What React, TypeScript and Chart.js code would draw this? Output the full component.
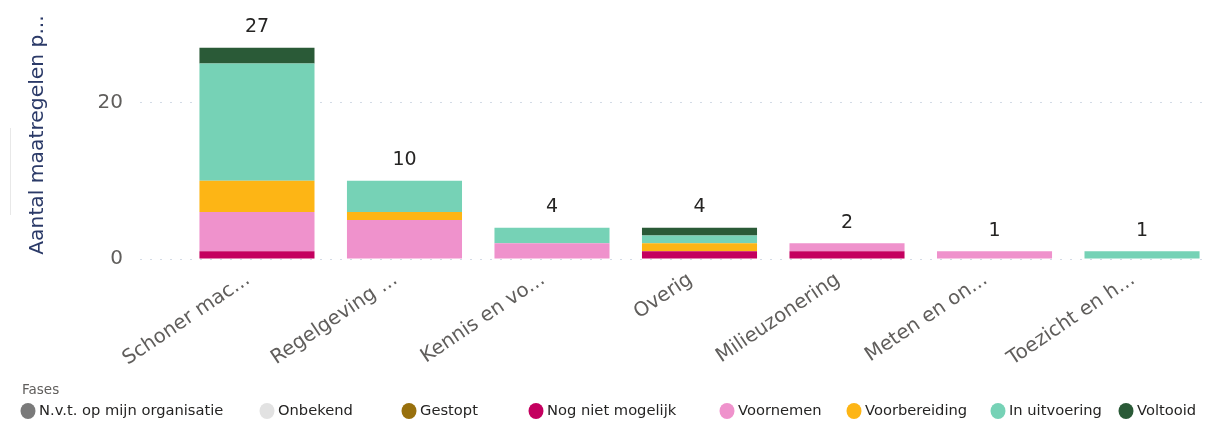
import React, { useEffect, useRef } from "react";
import { Chart, registerables } from "chart.js";

Chart.register(...registerables);

const categories = [
  "Schoner mac...",
  "Regelgeving ...",
  "Kennis en vo...",
  "Overig",
  "Milieuzonering",
  "Meten en on...",
  "Toezicht en h...",
];

const phaseNames = [
  "N.v.t. op mijn organisatie",
  "Onbekend",
  "Gestopt",
  "Nog niet mogelijk",
  "Voornemen",
  "Voorbereiding",
  "In uitvoering",
  "Voltooid",
];

const nvtValues = [0, 0, 0, 0, 0, 0, 0];
const onbekendValues = [0, 0, 0, 0, 0, 0, 0];
const gestoptValues = [0, 0, 0, 0, 0, 0, 0];
const nogNietMogelijkValues = [1, 0, 0, 1, 1, 0, 0];
const voornemenValues = [5, 5, 2, 0, 1, 1, 0];
const voorbereidingValues = [4, 1, 0, 1, 0, 0, 0];
const inUitvoeringValues = [15, 4, 2, 1, 0, 0, 1];
const voltooidValues = [2, 0, 0, 1, 0, 0, 0];

const yTickValues = [0, 20];
const yMax = 29.4;
const yAxisTitle = "Aantal maatregelen p...";
const legendTitle = "Fases";

const phaseColors = [
  "#7A7A7A",
  "#E2E2E2",
  "#98700D",
  "#C4005F",
  "#EF92CC",
  "#FDB515",
  "#76D2B6",
  "#2A5A37",
];

// layout constants (legend item circle centres, px)
const legendX = [28, 267, 409, 536, 727, 854, 998, 1126];

const FONT = "'DejaVu Sans', sans-serif";

export default function App() {
  const ref = useRef<HTMLCanvasElement | null>(null);

  useEffect(() => {
    const canvas = ref.current;
    if (!canvas) return;
    const series = [
      nvtValues,
      onbekendValues,
      gestoptValues,
      nogNietMogelijkValues,
      voornemenValues,
      voorbereidingValues,
      inUitvoeringValues,
      voltooidValues,
    ];
    const datasets = series.map((vals, si) => ({
      label: phaseNames[si],
      data: vals.map((v, i) => ({ x: i, y: v })),
      backgroundColor: phaseColors[si],
      borderWidth: 0,
      barPercentage: 1,
      categoryPercentage: 0.78,
    }));

    const totalsPlugin = {
      id: "totals",
      afterDatasetsDraw(chart: any) {
        const { ctx, scales } = chart;
        ctx.save();
        ctx.font = `19px ${FONT}`;
        ctx.fillStyle = "#252423";
        ctx.textAlign = "center";
        ctx.textBaseline = "alphabetic";
        categories.forEach((_, i) => {
          const total = series.reduce((s, arr) => s + arr[i], 0);
          const x = scales.x.getPixelForValue(i);
          const y = scales.y.getPixelForValue(total);
          ctx.fillText(String(total), x, y - 15.5);
        });
        ctx.restore();
      },
    };

    const decorPlugin = {
      id: "decor",
      afterDraw(chart: any) {
        const { ctx } = chart;
        ctx.save();
        // y axis title
        ctx.save();
        ctx.translate(38, 135);
        ctx.rotate(-Math.PI / 2);
        ctx.font = `20.3px ${FONT}`;
        ctx.fillStyle = "#2B3A68";
        ctx.textAlign = "center";
        ctx.textBaseline = "middle";
        ctx.fillText(yAxisTitle, 0, 0);
        ctx.restore();
        // faint decorative line left of axis title
        ctx.strokeStyle = "#E8E8E8";
        ctx.lineWidth = 1;
        ctx.beginPath();
        ctx.moveTo(10.5, 128);
        ctx.lineTo(10.5, 215);
        ctx.stroke();
        // legend
        ctx.font = `13.5px ${FONT}`;
        ctx.fillStyle = "#605E5C";
        ctx.textAlign = "left";
        ctx.textBaseline = "middle";
        ctx.fillText(legendTitle, 22, 390);
        ctx.font = `14.7px ${FONT}`;
        phaseNames.forEach((name, i) => {
          const cx = legendX[i];
          ctx.fillStyle = phaseColors[i];
          ctx.beginPath();
          ctx.ellipse(cx, 411, 7.5, 8, 0, 0, Math.PI * 2);
          ctx.fill();
          ctx.fillStyle = "#252423";
          ctx.fillText(name, cx + 11, 411);
        });
        ctx.restore();
      },
    };

    const chart = new Chart(canvas, {
      type: "bar",
      data: { datasets },
      options: {
        responsive: false,
        animation: false,
        layout: { padding: { top: 19, right: 0, bottom: 0, left: 0 } },
        plugins: {
          legend: { display: false },
          tooltip: { enabled: false },
        },
        scales: {
          x: {
            type: "linear",
            stacked: true,
            offset: false,
            min: -0.793,
            max: 6.454,
            grid: { display: false },
            border: { display: false },
            afterBuildTicks: (scale: any) => {
              scale.ticks = categories.map((_, i) => ({ value: i }));
            },
            afterFit: (scale: any) => {
              scale.height = 162;
            },
            ticks: {
              autoSkip: false,
              minRotation: 34,
              maxRotation: 34,
              padding: 1,
              labelOffset: -9,
              color: "#605E5C",
              font: { family: FONT, size: 19.8 },
              callback: (v: any) => categories[v] ?? "",
            },
          },
          y: {
            stacked: true,
            min: 0,
            max: yMax,
            afterBuildTicks: (scale: any) => {
              scale.ticks = yTickValues.map((v) => ({ value: v }));
            },
            afterFit: (scale: any) => {
              scale.width = 140;
            },
            grid: {
              color: "#D3DBE6",
              drawTicks: false,
              lineWidth: 1,
            },
            border: { display: false, dash: [2, 8] },
            ticks: {
              padding: 17,
              color: "#605E5C",
              font: { family: FONT, size: 20 },
            },
            title: { display: false },
          },
        },
      },
      plugins: [totalsPlugin, decorPlugin],
    } as any);

    return () => chart.destroy();
  }, []);

  return (
    <div
      style={{
        position: "fixed",
        left: 0,
        top: 0,
        width: 1209,
        height: 421,
        overflow: "hidden",
        background: "#fff",
      }}
    >
      <canvas ref={ref} width={1209} height={421} />
    </div>
  );
}
